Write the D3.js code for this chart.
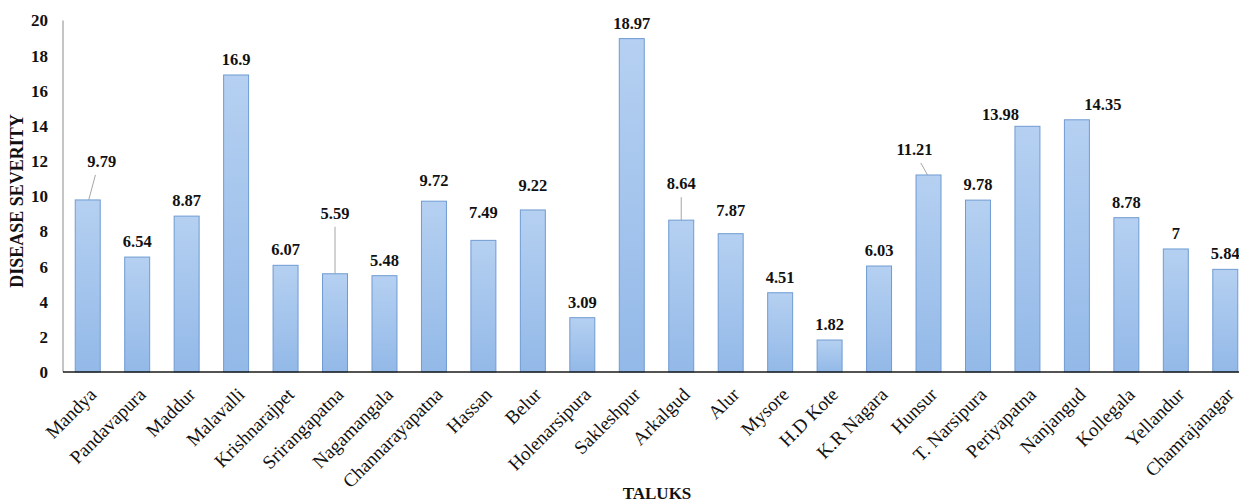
<!DOCTYPE html>
<html>
<head>
<meta charset="utf-8">
<script src="https://cdn.jsdelivr.net/npm/d3@7"></script>
<style>
  html, body { margin: 0; padding: 0; background: #fff; }
  svg { display: block; }
  svg text { font-family: "Liberation Serif", "Tinos", "Times New Roman", "DejaVu Serif", serif !important; }
</style>
</head>
<body>
<svg id="chart" width="1239" height="504"></svg>
<script>
// ---- data ----
const taluks = ["Mandya","Pandavapura","Maddur","Malavalli","Krishnarajpet","Srirangapatna","Nagamangala",
  "Channarayapatna","Hassan","Belur","Holenarsipura","Sakleshpur","Arkalgud","Alur","Mysore","H.D Kote",
  "K.R Nagara","Hunsur","T. Narsipura","Periyapatna","Nanjangud","Kollegala","Yellandur","Chamrajanagar"];
const severity = [9.79,6.54,8.87,16.9,6.07,5.59,5.48,9.72,7.49,9.22,3.09,18.97,8.64,7.87,4.51,1.82,
  6.03,11.21,9.78,13.98,14.35,8.78,7,5.84];
const yTicks = [0,2,4,6,8,10,12,14,16,18,20];
const xTitle = "TALUKS";
const yTitle = "DISEASE SEVERITY";

// ---- layout (label nudges, leader lines) ----
const labelNudge = {
  "Mandya": {dx: 14, dy: -23, leader: true},
  "Srirangapatna": {dx: 0, dy: -45, leader: true},
  "Channarayapatna": {dx: 0, dy: -5},
  "Hassan": {dx: 0, dy: -12},
  "Belur": {dx: 0, dy: -9},
  "Arkalgud": {dx: 0, dy: -21, leader: true},
  "Alur": {dx: 0, dy: -8},
  "Hunsur": {dx: -14, dy: -10, leader: true},
  "Periyapatna": {dx: -27, dy: 4},
  "Nanjangud": {dx: 26, dy: 0}
};

const svg = d3.select("#chart");
const x0 = 63, x1 = 1250, yBase = 372, yTop = 20.5;

const x = d3.scaleBand().domain(taluks).range([x0, x1]).paddingInner(0.495).paddingOuter(0.2475);
const y = d3.scaleLinear().domain([0, 20]).range([yBase, yTop]);

const defs = svg.append("defs");
const grad = defs.append("linearGradient").attr("id", "barGrad")
  .attr("x1", 0).attr("y1", 0).attr("x2", 0).attr("y2", 1);
grad.append("stop").attr("offset", "0%").attr("stop-color", "#b5d0f1");
grad.append("stop").attr("offset", "100%").attr("stop-color", "#93b9e8");

// bars
svg.append("g").selectAll("rect").data(taluks).join("rect")
  .attr("x", d => x(d))
  .attr("y", (d, i) => y(severity[i]))
  .attr("width", x.bandwidth())
  .attr("height", (d, i) => yBase - y(severity[i]))
  .attr("fill", "url(#barGrad)")
  .attr("stroke", "#6f9bd2")
  .attr("stroke-width", 1);

// y axis (labels only)
const yAxis = svg.append("g").attr("transform", `translate(${x0},0)`)
  .call(d3.axisLeft(y).tickValues(yTicks).tickSize(0).tickPadding(15).tickFormat(d3.format("d")));
yAxis.attr("font-family", null);
yAxis.select(".domain").remove();
yAxis.selectAll("text")
  .attr("font-size", 17).attr("font-weight", "bold").attr("fill", "#111");
svg.append("line").attr("x1", x0).attr("x2", x0).attr("y1", y(20)).attr("y2", yBase)
  .attr("stroke", "#8a8a8a").attr("stroke-width", 1);

// x axis
const xAxis = svg.append("g").attr("transform", `translate(0,${yBase})`)
  .call(d3.axisBottom(x).tickSize(0).tickPadding(0));
xAxis.attr("font-family", null);
xAxis.select(".domain").remove();
xAxis.selectAll("text")
  .attr("font-size", 19).attr("fill", "#111")
  .attr("x", 0).attr("y", 0).attr("dy", "0.35em")
  .attr("text-anchor", "end")
  .attr("transform", "translate(5,19) rotate(-45)");
svg.append("line").attr("x1", x0).attr("x2", 1239).attr("y1", yBase).attr("y2", yBase)
  .attr("stroke", "#1a1a1a").attr("stroke-width", 1.5);

// value labels
const lab = svg.append("g");
taluks.forEach((t, i) => {
  const cx = x(t) + x.bandwidth() / 2;
  const top = y(severity[i]);
  const n = labelNudge[t] || {dx: 0, dy: 0};
  const lx = cx + n.dx, ly = top - 10 + n.dy;
  if (n.leader) {
    lab.append("line")
      .attr("x1", lx - n.dx * 0.45).attr("y1", ly + 8)
      .attr("x2", cx + (n.dx ? Math.sign(n.dx) * 1 : 0)).attr("y2", top)
      .attr("stroke", "#a6a6a6").attr("stroke-width", 1);
  }
  lab.append("text").attr("x", lx).attr("y", ly)
    .attr("text-anchor", "middle").attr("font-size", 16.5).attr("font-weight", "bold").attr("fill", "#111")
    .text(severity[i]);
});

// titles
svg.append("text").attr("x", 657).attr("y", 499).attr("text-anchor", "middle")
  .attr("font-size", 17).attr("font-weight", "bold").attr("fill", "#111").text(xTitle);
svg.append("text").attr("transform", "translate(17,201) rotate(-90)").attr("dy", "0.35em")
  .attr("text-anchor", "middle").attr("font-size", 18).attr("font-weight", "bold").attr("fill", "#111").text(yTitle);
</script>
</body>
</html>
